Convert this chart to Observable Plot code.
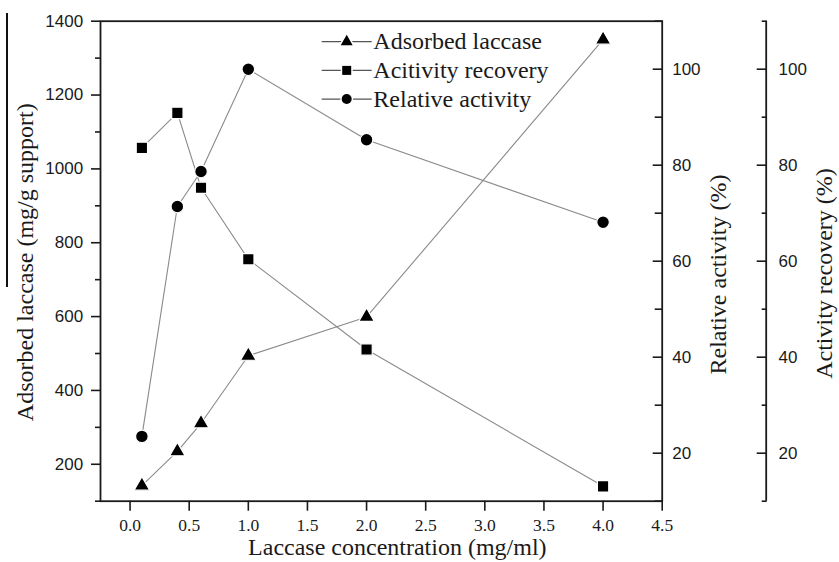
<!DOCTYPE html>
<html>
<head>
<meta charset="utf-8">
<script src="https://cdn.jsdelivr.net/npm/d3@7"></script>
<script src="https://cdn.jsdelivr.net/npm/@observablehq/plot@0.6"></script>
<style>
  body { margin: 0; background: #fff; }
  #wrap { position: relative; width: 839px; height: 562px; overflow: hidden; }
  #wrap svg.plot { display: block; }
  #legend { position: absolute; left: 0; top: 0; pointer-events: none; }
  #edge { position: absolute; left: 6px; top: 13px; width: 1.5px; height: 274px; background: #111; }
</style>
</head>
<body>
<div id="wrap"><div id="edge"></div></div>
<script>
// ---- data ----
const concentration = [0.1, 0.4, 0.6, 1.0, 2.0, 4.0];            // mg/ml
const adsorbedLaccase = [142, 235, 311, 494, 599, 1350];         // mg/g support (left axis)
const activityRecovery = [83.6, 90.9, 75.3, 60.4, 41.6, 13.1];  // % (outer right axis)
const relativeActivity = [23.5, 71.4, 78.7, 100, 85.3, 68.1];   // % (inner right axis)

const xTicks = [0, 0.5, 1.0, 1.5, 2.0, 2.5, 3.0, 3.5, 4.0, 4.5];
const leftMajorTicks = [200, 400, 600, 800, 1000, 1200, 1400];
const leftMinorTicks = [100, 300, 500, 700, 900, 1100, 1300];
const pctMajorTicks = [20, 40, 60, 80, 100];
const pctMinorTicks = [10, 30, 50, 70, 90, 110];
const xDomain = [-0.25, 4.5];
const leftDomain = [100, 1400];
const pctDomain = [10, 110];

const legendLabels = ["Adsorbed laccase", "Acitivity recovery", "Relative activity"];
const legendSymbols = ["triangle", "square", "circle"];

// ---- helpers ----
const k = (leftDomain[1] - leftDomain[0]) / (pctDomain[1] - pctDomain[0]);
const pctToLeft = p => leftDomain[0] + (p - pctDomain[0]) * k;

const serif = "Liberation Serif";
const sans = "Liberation Sans";
const axisColor = "#1a1a1a";
const lineColor = "#8a8a8a";

const adsorbed = concentration.map((x, i) => ({x, y: adsorbedLaccase[i]}));
const recovery = concentration.map((x, i) => ({x, y: pctToLeft(activityRecovery[i])}));
const relative = concentration.map((x, i) => ({x, y: pctToLeft(relativeActivity[i])}));

const series = [
  {data: adsorbed, symbol: "triangle", r: 5.8},
  {data: recovery, symbol: "square", r: 6.4},
  {data: relative, symbol: "circle", r: 6.3}
];

const outerDx = 104;
const noText = () => "";

const chart = Plot.plot({
  width: 839,
  height: 562,
  marginLeft: 100,
  marginRight: 177.3,
  marginTop: 20.7,
  marginBottom: 61.3,
  x: {domain: xDomain},
  y: {domain: leftDomain},
  style: {background: "#fff", color: axisColor, overflow: "visible"},
  marks: [
    // data lines
    ...series.map(s => Plot.line(s.data, {x: "x", y: "y", stroke: lineColor, strokeWidth: 1.1})),
    // markers
    ...series.map(s => Plot.dot(s.data, {x: "x", y: "y", symbol: s.symbol, r: s.r, fill: "#000", stroke: "#fff", strokeWidth: 1.2})),
    // frame
    Plot.frame({stroke: axisColor, strokeWidth: 1.8}),
    // x axis ticks + labels
    Plot.axisX({ticks: xTicks, tickFormat: noText, tickSize: 10, strokeWidth: 1.6, label: null}),
    Plot.text(xTicks, {x: d => d, text: d3.format(".1f"), frameAnchor: "bottom", dy: 17.6, lineAnchor: "top",
      textAnchor: "middle", fontFamily: serif, fontSize: 17.5, fill: axisColor}),
    // left axis ticks + labels
    Plot.axisY({anchor: "left", ticks: leftMajorTicks, tickFormat: noText, tickSize: 9, strokeWidth: 1.6, label: null}),
    Plot.axisY({anchor: "left", ticks: leftMinorTicks, tickFormat: noText, tickSize: 5, strokeWidth: 1.6, label: null}),
    Plot.text(leftMajorTicks, {y: d => d, text: d => String(d), frameAnchor: "left", dx: -17.3, textAnchor: "end",
      lineAnchor: "middle", fontFamily: sans, fontSize: 17, fill: axisColor}),
    // inner right axis (relative activity), ticks inward
    Plot.axisY({anchor: "right", ticks: pctMajorTicks.map(pctToLeft), tickFormat: noText, tickSize: -10, strokeWidth: 1.6, label: null}),
    Plot.axisY({anchor: "right", ticks: pctMinorTicks.map(pctToLeft), tickFormat: noText, tickSize: -8, strokeWidth: 1.6, label: null}),
    Plot.text(pctMajorTicks, {y: d => pctToLeft(d), text: d => String(d), frameAnchor: "right", dx: 10, textAnchor: "start",
      lineAnchor: "middle", fontFamily: sans, fontSize: 17, fill: axisColor}),
    // outer right axis (activity recovery)
    Plot.ruleX([xDomain[1]], {dx: outerDx, stroke: axisColor, strokeWidth: 1.8}),
    Plot.axisY({anchor: "right", dx: outerDx, ticks: pctMajorTicks.map(pctToLeft), tickFormat: noText, tickSize: -10, strokeWidth: 1.6, label: null}),
    Plot.axisY({anchor: "right", dx: outerDx, ticks: pctMinorTicks.map(pctToLeft), tickFormat: noText, tickSize: -5, strokeWidth: 1.6, label: null}),
    Plot.text(pctMajorTicks, {y: d => pctToLeft(d), text: d => String(d), frameAnchor: "right", dx: outerDx + 12.3, textAnchor: "start",
      lineAnchor: "middle", fontFamily: sans, fontSize: 17, fill: axisColor}),
    // axis titles
    Plot.text(["Adsorbed laccase (mg/g support)"], {text: d => d, frameAnchor: "left", rotate: -90, dx: -74.7, dy: 1,
      textAnchor: "middle", lineAnchor: "middle", fontFamily: serif, fontSize: 24, fill: axisColor}),
    Plot.text(["Relative activity (%)"], {text: d => d, frameAnchor: "right", rotate: -90, dx: 56.6, dy: 13.3,
      textAnchor: "middle", lineAnchor: "middle", fontFamily: serif, fontSize: 24, fill: axisColor}),
    Plot.text(["Activity recovery (%)"], {text: d => d, frameAnchor: "right", rotate: -90, dx: 162.6, dy: 12.3,
      textAnchor: "middle", lineAnchor: "middle", fontFamily: serif, fontSize: 24, fill: axisColor}),
    Plot.text(["Laccase concentration (mg/ml)"], {text: d => d, frameAnchor: "bottom", dx: 16, dy: 46.6,
      textAnchor: "middle", lineAnchor: "middle", fontFamily: serif, fontSize: 24, fill: axisColor})
  ]
});
chart.classList.add("plot");
document.getElementById("wrap").appendChild(chart);

// ---- legend overlay (inside the plot area, top centre) ----
const ns = "http://www.w3.org/2000/svg";
const leg = document.createElementNS(ns, "svg");
leg.setAttribute("id", "legend");
leg.setAttribute("width", 839);
leg.setAttribute("height", 562);
const legX0 = 321.7, legX1 = 371.7, legTextX = 373.3, legBase0 = 49.3, legStep = 28.7;
legendLabels.forEach((label, i) => {
  const base = legBase0 + i * legStep;
  const cy = base - 7.6;
  const cx = (legX0 + legX1) / 2;
  const g = document.createElementNS(ns, "g");
  const ln = document.createElementNS(ns, "line");
  ln.setAttribute("x1", legX0); ln.setAttribute("x2", legX1);
  ln.setAttribute("y1", cy); ln.setAttribute("y2", cy);
  ln.setAttribute("stroke", "#555"); ln.setAttribute("stroke-width", 1.2);
  g.appendChild(ln);
  const sym = document.createElementNS(ns, "path");
  const symType = {triangle: d3.symbolTriangle, square: d3.symbolSquare, circle: d3.symbolCircle}[legendSymbols[i]];
  const size = {triangle: 62, square: 81, circle: 78}[legendSymbols[i]];
  sym.setAttribute("d", d3.symbol(symType, size)());
  sym.setAttribute("transform", `translate(${cx},${cy})`);
  sym.setAttribute("fill", "#000");
  sym.setAttribute("stroke", "#fff");
  sym.setAttribute("stroke-width", 3);
  sym.setAttribute("paint-order", "stroke");
  g.appendChild(sym);
  const t = document.createElementNS(ns, "text");
  t.setAttribute("x", legTextX); t.setAttribute("y", base);
  t.setAttribute("font-family", serif); t.setAttribute("font-size", 24);
  t.setAttribute("fill", axisColor);
  t.textContent = label;
  g.appendChild(t);
  leg.appendChild(g);
});
document.getElementById("wrap").appendChild(leg);
</script>
</body>
</html>
